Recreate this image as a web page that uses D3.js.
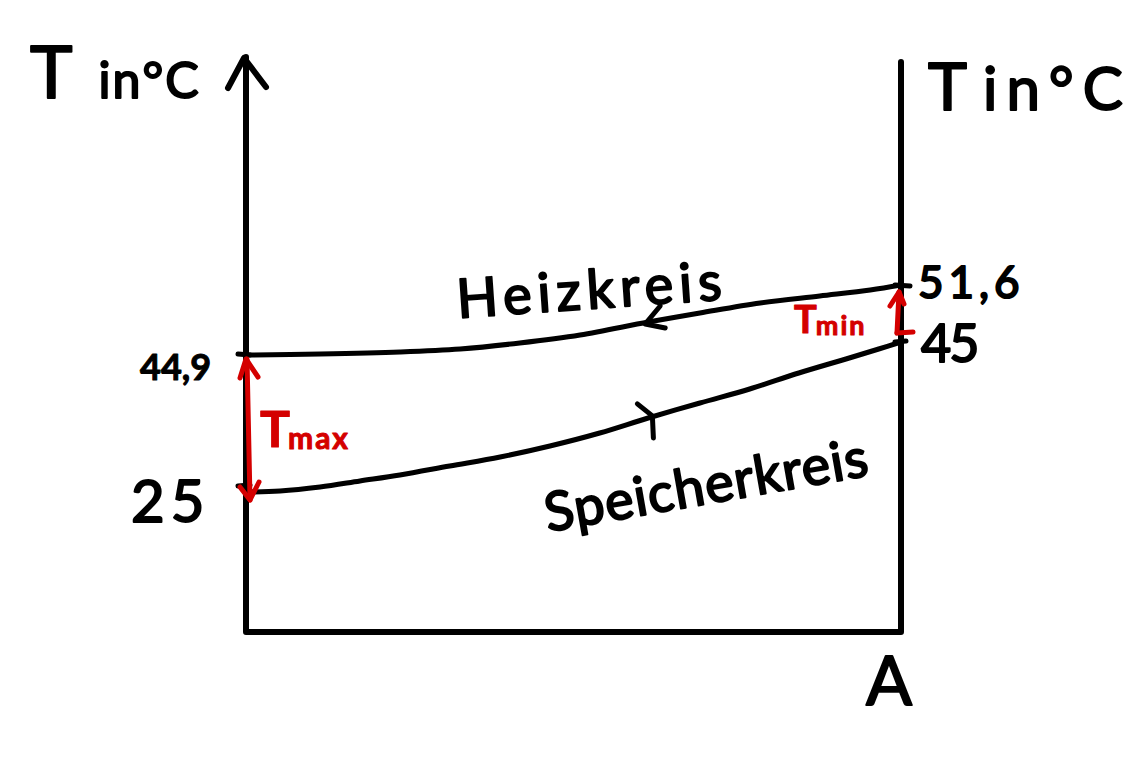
<!DOCTYPE html>
<html><head><meta charset="utf-8">
<script src="https://cdn.jsdelivr.net/npm/d3@7"></script>
<style>
html,body{margin:0;padding:0;background:#fff;}
svg{display:block;}
text{font-family:"Lato","Noto Sans",sans-serif;stroke-linejoin:round;}
</style></head>
<body>
<script>
// ---- data (A = position along the heat exchanger in %, level = sketch height units above the A axis) ----
const posHeiz = [0, 11.3, 23.5, 32.7, 41.8, 51.0, 61.4, 69.3, 78.5, 87.6, 95.3, 100];
const heizkreis = [277, 278, 280, 283, 289, 297, 310, 319, 329, 336, 342, 347];
const posSpeicher = [0, 5.2, 11.3, 17.4, 23.5, 31.1, 38.8, 46.4, 54.0, 61.4, 69.3, 76.9, 84.4, 92.1, 96.6, 100];
const speicherkreis = [140, 141, 145, 151, 157, 166, 175, 186, 199, 214, 229, 243, 259, 274, 283, 290];
const leftTickLabels = ["44,9", "25"];
const rightTickLabels = ["51,6", "45"];
const seriesNames = ["Heizkreis", "Speicherkreis"];
const flowArrowPos = [61.4, 62.5];
const axisTitle = "T in°C";
const xAxisTitle = "A";
const diffLabels = ["max", "min"];

const W = 1133, H = 762;
const RED = "#d40000";
const svg = d3.select("body").append("svg").attr("width", W).attr("height", H);

const x = d3.scaleLinear().domain([0, 100]).range([246, 901]);
const y = d3.scaleLinear().domain([0, 570]).range([632, 62]);

const ink = (sel, w, c) => sel.attr("fill", "none").attr("stroke", c || "#000")
  .attr("stroke-width", w).attr("stroke-linecap", "round").attr("stroke-linejoin", "round");

// axes
ink(svg.append("path").attr("d", d3.line()([[x(0), y(575)], [x(0), y(0)], [x(100), y(0)], [x(100), y(570)]])), 6);
ink(svg.append("path").attr("d", d3.line()([[x(0) - 18, y(544)], [x(0) - 2, y(574)], [x(0) + 20, y(545)]])), 6);

// series lines
const line = d3.line().x(d => x(d[0])).y(d => y(d[1])).curve(d3.curveCatmullRom.alpha(0.5));
const heizPts = posHeiz.map((p, i) => [p, heizkreis[i]]);
const speicherPts = posSpeicher.map((p, i) => [p, speicherkreis[i]]);
ink(svg.append("path").attr("d", line(heizPts)), 5);
ink(svg.append("path").attr("d", line(speicherPts)), 5);

// ticks
const hL = heizkreis[0], sL = speicherkreis[0];
const hR = heizkreis[heizkreis.length - 1], sR = speicherkreis[speicherkreis.length - 1];
ink(svg.append("path").attr("d", d3.line()([[x(0) - 8, y(hL) - 1], [x(0) + 4, y(hL)]])), 5);
ink(svg.append("path").attr("d", d3.line()([[x(0) - 8, y(sL) - 6], [x(0) + 4, y(sL) - 7]])), 5);
ink(svg.append("path").attr("d", d3.line()([[x(100) - 6, y(hR)], [x(100) + 9, y(hR) + 1]])), 5);
ink(svg.append("path").attr("d", d3.line()([[x(100) - 6, y(sR)], [x(100) + 5, y(sR) - 1]])), 5);

// flow arrows on the lines
const interp = (pos, vals, p) => { const i = d3.bisectLeft(pos, p); const t = (p - pos[i - 1]) / (pos[i] - pos[i - 1]); return vals[i - 1] + t * (vals[i] - vals[i - 1]); };
{
  const px = x(flowArrowPos[0]) - 3, py = y(interp(posHeiz, heizkreis, flowArrowPos[0]));
  ink(svg.append("path").attr("d", d3.line()([[px + 15, py - 16], [px, py + 2], [px + 20, py + 6]])), 5);
  const qx = x(flowArrowPos[1]) - 3, qy = y(interp(posSpeicher, speicherkreis, flowArrowPos[1]));
  ink(svg.append("path").attr("d", d3.line()([[qx - 15, qy - 12], [qx, qy], [qx + 1, qy + 22]])), 5);
}

// red difference arrows
{
  const ax = x(0) + 1;
  const t = y(hL) + 4, b = y(sL) + 8;
  ink(svg.append("path").attr("d", d3.line()([[ax, t], [ax + 3, b]])), 5, RED);
  ink(svg.append("path").attr("d", d3.line()([[ax - 7, t + 19], [ax - 1, t], [ax + 11, t + 18]])), 5, RED);
  ink(svg.append("path").attr("d", d3.line()([[ax - 7, b - 13], [ax + 3, b], [ax + 12, b - 18]])), 5, RED);
  const bx = x(100) - 2;
  const t2 = y(hR) + 7, b2 = y(sR) - 9;
  ink(svg.append("path").attr("d", d3.line()([[bx, t2], [bx - 2, b2]])), 5, RED);
  ink(svg.append("path").attr("d", d3.line()([[bx - 9, t2 + 14], [bx, t2], [bx + 5, t2 + 12]])), 5, RED);
  ink(svg.append("path").attr("d", d3.line()([[bx - 2, b2], [bx + 14, b2 - 1]])), 5, RED);
}

// texts
function hand(xp, yp, size, str, opts = {}) {
  const fill = opts.fill || "#000";
  const t = svg.append("text").attr("x", xp).attr("y", yp).attr("font-size", size)
    .attr("fill", fill).attr("stroke", fill).attr("stroke-width", opts.sw == null ? 2 : opts.sw)
    .attr("font-weight", opts.weight || 400)
    .attr("letter-spacing", opts.ls || 0);
  if (opts.rot) t.attr("transform", `rotate(${opts.rot},${xp},${yp})`);
  t.text(str);
  return t;
}
// axis titles
{
  const t = svg.append("text").attr("x", 30).attr("y", 98).attr("font-weight", 400)
    .attr("stroke", "#000").attr("stroke-width", 2);
  t.append("tspan").attr("font-size", 72).text(axisTitle.slice(0, 1));
  t.append("tspan").attr("font-size", 50).attr("dx", 26).attr("letter-spacing", 2).text(axisTitle.slice(2));
  const r = svg.append("text").attr("x", 928).attr("y", 110).attr("font-weight", 400)
    .attr("stroke", "#000").attr("stroke-width", 2);
  r.append("tspan").attr("font-size", 66).text(axisTitle.slice(0, 1));
  r.append("tspan").attr("font-size", 60).attr("dx", 16).attr("letter-spacing", 9).text(axisTitle.slice(2));
}
hand(866, 705, 68, xAxisTitle);

// tick labels
hand(140, 380, 36, leftTickLabels[0], { weight: 700, ls: 0, sw: 1 });
hand(131, 522, 58, leftTickLabels[1], { ls: 6 });
hand(918, 298, 44, rightTickLabels[0], { ls: 5 });
hand(921, 362, 52, rightTickLabels[1], { ls: -2 });

// series labels
hand(458, 318, 54, seriesNames[0], { ls: 6, rot: -4 });
hand(548, 532, 54, seriesNames[1], { ls: 1, rot: -10 });

// T_max / T_min
{
  const a = svg.append("text").attr("x", 260).attr("y", 447).attr("fill", RED).attr("font-weight", 700)
    .attr("stroke", RED).attr("stroke-width", 1);
  a.append("tspan").attr("font-size", 50).text("T");
  a.append("tspan").attr("font-size", 30).attr("dx", -2).attr("dy", 2).attr("letter-spacing", 2).text(diffLabels[0]);
  const b = svg.append("text").attr("x", 794).attr("y", 333).attr("fill", RED).attr("font-weight", 700)
    .attr("stroke", RED).attr("stroke-width", 1);
  b.append("tspan").attr("font-size", 38).text("T");
  b.append("tspan").attr("font-size", 27).attr("dx", -1).attr("dy", 2).attr("letter-spacing", 2).text(diffLabels[1]);
}
</script>
</body></html>
